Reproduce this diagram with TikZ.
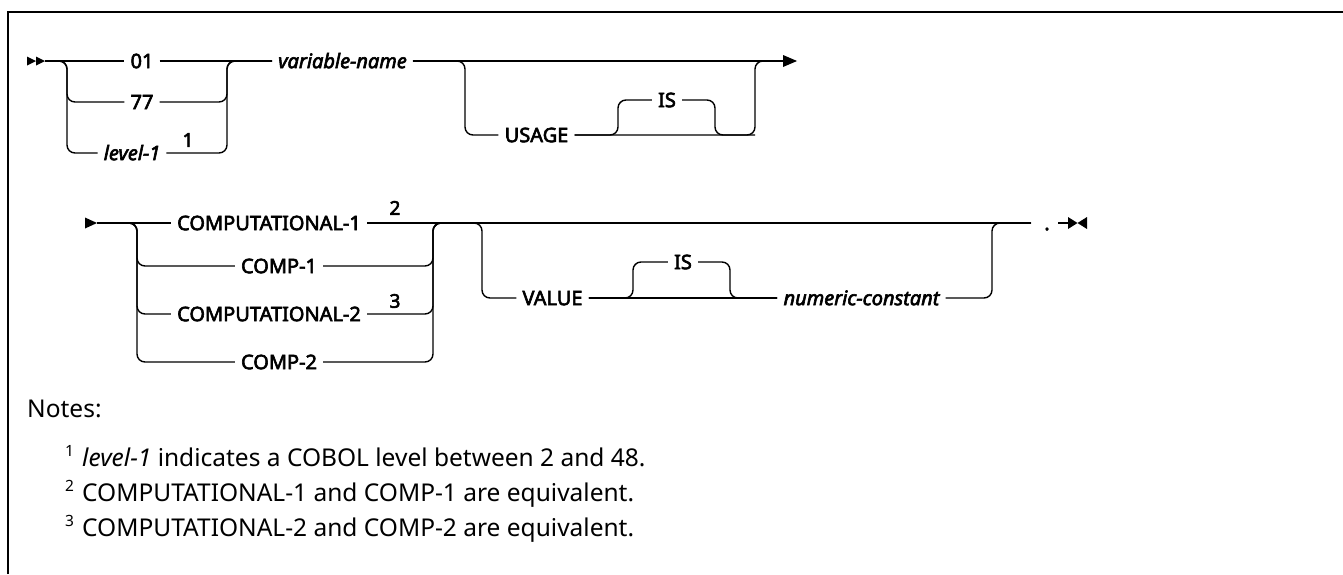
\documentclass[tikz,border=0pt]{standalone}
\usepackage{fontspec}
\newfontfamily\dfont[FakeBold=3]{Noto Sans}
\newfontfamily\nfont{Noto Sans}
\begin{document}
\begin{tikzpicture}[x=1pt,y=-1pt,
  lbl/.style={font=\dfont\fontsize{20}{22}\selectfont, inner xsep=6pt, inner ysep=0pt, text height=14.3pt, text depth=0pt},
  ilbl/.style={lbl, font=\dfont\fontsize{20}{22}\selectfont\itshape},
  supn/.style={font=\dfont\fontsize{19}{21}\selectfont, inner sep=0pt, text height=13.5pt, text depth=0pt},
  rail/.style={line width=1.4pt, rounded corners=8pt},
  tip/.style={fill=black, draw=none},
  note/.style={font=\nfont\fontsize{24.5}{28}\selectfont, anchor=base west, inner sep=0pt},
  nsup/.style={font=\nfont\fontsize{15.5}{17}\selectfont, anchor=base west, inner sep=0pt}]
\useasboundingbox (0,0) rectangle (1343,574);
% frame
\draw[line width=2pt] (8,574) -- (8,12) -- (1343,12);

% ---------- row 1 ----------
\coordinate (st1) at (45,61);
\coordinate (L1) at (67,61);
\coordinate (R1) at (227,61);
\coordinate (L2) at (465,61);
\coordinate (R2) at (755,61);
\coordinate (e1) at (784,61);
\coordinate (iL1) at (618,135);
\coordinate (iR1) at (715,135);

\node[lbl] (n01) at (142,61) {01};
\node[lbl] (n77) at (142,102) {77};
\node[ilbl] (nlev) at (132,153) {level-1};
\node[supn] (s1n) at (188,140) {1};
\node[ilbl] (var) at (342.5,61) {variable-name};
\node[lbl] (usage) at (536.5,135) {USAGE};
\node[lbl] (is1) at (667,100) {IS};

\fill[tip] (27,56.5) -- (36,61) -- (27,65.5) -- cycle;
\fill[tip] (36,56.5) -- (45,61) -- (36,65.5) -- cycle;

\draw[rail] (st1) -- (n01.west);
\draw[rail] (n01.east) -- (var.west);
\draw[rail] (st1) -| (L1 |- n77.west) -- (n77.west);
\draw[rail] (st1) -| (L1 |- nlev.west) -- (nlev.west);
\draw[rail] (n77.east) -- (R1 |- n77.east) |- (var.west);
\draw[rail] (nlev.east) -- (R1 |- nlev.east) |- (var.west);
\draw[rail] (var.east) -- (e1);
\draw[rail] (var.east) -| (L2 |- usage.west) -- (usage.west);
\draw[rail] (usage.east) -- (R2 |- usage.east) |- (e1);
\draw[rail] (usage.east) -| (iL1 |- is1.west) -- (is1.west);
\draw[rail] (is1.east) -| (iR1) -- (R2 |- usage.east);
\fill[tip] (783,55) -- (797,61) -- (783,67) -- cycle;

% ---------- row 2 ----------
\coordinate (st2) at (97,223);
\coordinate (L3) at (137,223);
\coordinate (R3) at (433,223);
\coordinate (L4) at (482,223);
\coordinate (R4) at (992,223);
\coordinate (m2e) at (1031,223);
\coordinate (b2) at (1058,223);
\coordinate (e2) at (1068,223);
\coordinate (iL2) at (633,298);
\coordinate (iR2) at (730,298);

\node[lbl] (c1) at (269,223) {COMPUTATIONAL-1};
\node[lbl] (c2) at (279,266) {COMP-1};
\node[lbl] (c3) at (269,314) {COMPUTATIONAL-2};
\node[lbl] (c4) at (279,362) {COMP-2};
\node[supn] (s2n) at (395,208) {2};
\node[supn] (s3n) at (395,301) {3};
\node[lbl] (value) at (552.5,298) {VALUE};
\node[lbl] (is2) at (683,262) {IS};
\node[ilbl] (numc) at (861.5,298) {numeric-constant};
\node[lbl, inner xsep=0pt] (dot) at (1047,223) {.};

\fill[tip] (85,217.5) -- (97,223) -- (85,228.5) -- cycle;
\draw[rail] (st2) -- (c1.west);
\draw[rail] (c1.east) -- (m2e);
\draw[rail] (st2) -| (L3 |- c2.west) -- (c2.west);
\draw[rail] (st2) -| (L3 |- c3.west) -- (c3.west);
\draw[rail] (st2) -| (L3 |- c4.west) -- (c4.west);
\draw[rail] (c2.east) -- (R3 |- c2.east) |- (L4);
\draw[rail] (c3.east) -- (R3 |- c3.east) |- (L4);
\draw[rail] (c4.east) -- (R3 |- c4.east) |- (L4);
\draw[rail] (R3) -| (L4 |- value.west) -- (value.west);
\draw[rail] (value.east) -- (numc.west);
\draw[rail] (value.east) -| (iL2 |- is2.west) -- (is2.west);
\draw[rail] (is2.east) -| (iR2) -- (numc.west);
\draw[rail] (numc.east) -- (R4 |- numc.east) |- (m2e);
\draw[rail] (b2) -- (e2);
\fill[tip] (1068,217) -- (1077.5,223) -- (1068,229) -- cycle;
\fill[tip] (1087,217) -- (1077.5,223) -- (1087,229) -- cycle;

% ---------- notes ----------
\node[note] (notes) at (27,417) {Notes:};
\node[nsup] (ns1) at (65,456) {1};
\node[note] (nt1) at (82,466) {\itshape level-1\upshape{} indicates a COBOL level between 2 and 48.};
\node[nsup] (ns2) at (65,491) {2};
\node[note] (nt2) at (82,501) {COMPUTATIONAL-1 and COMP-1 are equivalent.};
\node[nsup] (ns3) at (65,526) {3};
\node[note] (nt3) at (82,536) {COMPUTATIONAL-2 and COMP-2 are equivalent.};
\end{tikzpicture}
\end{document}
